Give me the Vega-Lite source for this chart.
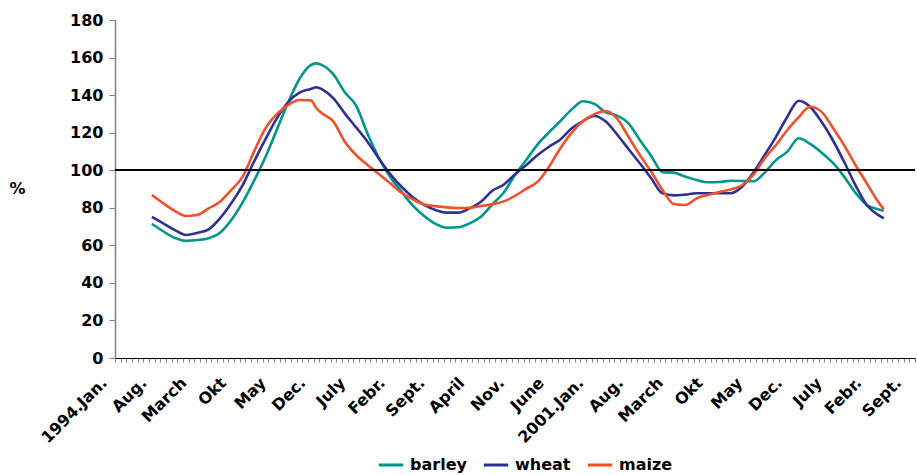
{
  "$schema": "https://vega.github.io/schema/vega-lite/v6.json",
  "autosize": {"type": "none"},
  "padding": {"left": 115, "top": 20, "right": 2, "bottom": 117},
  "width": 800,
  "height": 338,
  "background": "white",
  "config": {
    "view": {"stroke": null},
    "font": "DejaVu Sans",
    "axis": {"grid": false, "labelFont": "DejaVu Sans", "labelFontWeight": "bold", "labelFontSize": 16, "labelColor": "black"},
    "axisY": {"labelOverlap": false}
  },
  "data": {
    "values": [
      {"m": 6, "barley": 71.4, "wheat": 75.2, "maize": 86.8},
      {"m": 8, "barley": 67.5, "wheat": 71.7, "maize": 82.4},
      {"m": 10, "barley": 64.0, "wheat": 68.2, "maize": 78.4},
      {"m": 12, "barley": 62.4, "wheat": 65.5, "maize": 75.6},
      {"m": 14, "barley": 62.8, "wheat": 66.6, "maize": 76.2},
      {"m": 16, "barley": 63.8, "wheat": 68.5, "maize": 79.7},
      {"m": 18, "barley": 66.7, "wheat": 74.4, "maize": 83.2},
      {"m": 20, "barley": 73.5, "wheat": 82.4, "maize": 89.5},
      {"m": 22, "barley": 82.9, "wheat": 92.1, "maize": 96.6},
      {"m": 24, "barley": 94.3, "wheat": 104.5, "maize": 109.9},
      {"m": 26, "barley": 106.9, "wheat": 116.4, "maize": 122.3},
      {"m": 28, "barley": 121.4, "wheat": 127.5, "maize": 129.9},
      {"m": 30, "barley": 136.0, "wheat": 136.2, "maize": 134.7},
      {"m": 32, "barley": 148.6, "wheat": 141.3, "maize": 137.4},
      {"m": 34, "barley": 156.0, "wheat": 143.3, "maize": 137.2},
      {"m": 35, "barley": 156.9, "wheat": 144.2, "maize": 133.0},
      {"m": 36, "barley": 156.0, "wheat": 143.1, "maize": 130.3},
      {"m": 38, "barley": 151.0, "wheat": 138.3, "maize": 125.9},
      {"m": 40, "barley": 141.5, "wheat": 130.3, "maize": 115.2},
      {"m": 42, "barley": 134.4, "wheat": 122.8, "maize": 108.1},
      {"m": 44, "barley": 119.5, "wheat": 115.2, "maize": 102.8},
      {"m": 46, "barley": 106.5, "wheat": 106.3, "maize": 98.0},
      {"m": 48, "barley": 96.4, "wheat": 98.0, "maize": 93.0},
      {"m": 50, "barley": 88.6, "wheat": 91.2, "maize": 88.0},
      {"m": 52, "barley": 81.1, "wheat": 85.6, "maize": 84.5},
      {"m": 54, "barley": 75.6, "wheat": 81.5, "maize": 81.8},
      {"m": 56, "barley": 71.4, "wheat": 78.8, "maize": 80.9},
      {"m": 58, "barley": 69.4, "wheat": 77.4, "maize": 80.2},
      {"m": 60, "barley": 69.6, "wheat": 77.4, "maize": 79.9},
      {"m": 62, "barley": 71.7, "wheat": 79.7, "maize": 80.0},
      {"m": 64, "barley": 75.2, "wheat": 83.2, "maize": 80.9},
      {"m": 66, "barley": 81.8, "wheat": 89.1, "maize": 81.8},
      {"m": 68, "barley": 88.0, "wheat": 92.3, "maize": 83.4},
      {"m": 70, "barley": 97.5, "wheat": 97.8, "maize": 86.3},
      {"m": 72, "barley": 105.6, "wheat": 102.8, "maize": 90.2},
      {"m": 74, "barley": 113.8, "wheat": 108.1, "maize": 93.9},
      {"m": 76, "barley": 120.2, "wheat": 112.5, "maize": 101.9},
      {"m": 78, "barley": 126.2, "wheat": 116.4, "maize": 111.7},
      {"m": 80, "barley": 132.4, "wheat": 122.3, "maize": 120.0},
      {"m": 82, "barley": 136.7, "wheat": 126.2, "maize": 126.2},
      {"m": 84, "barley": 135.3, "wheat": 128.9, "maize": 129.9},
      {"m": 86, "barley": 130.8, "wheat": 125.9, "maize": 131.5},
      {"m": 88, "barley": 129.1, "wheat": 119.0, "maize": 127.5},
      {"m": 90, "barley": 125.0, "wheat": 111.3, "maize": 117.8},
      {"m": 92, "barley": 116.1, "wheat": 103.7, "maize": 108.1},
      {"m": 94, "barley": 107.6, "wheat": 95.7, "maize": 99.2},
      {"m": 96, "barley": 99.0, "wheat": 87.7, "maize": 89.5},
      {"m": 98, "barley": 98.7, "wheat": 86.6, "maize": 82.0},
      {"m": 100, "barley": 96.6, "wheat": 87.0, "maize": 81.5},
      {"m": 102, "barley": 94.8, "wheat": 87.7, "maize": 85.0},
      {"m": 104, "barley": 93.6, "wheat": 87.7, "maize": 86.8},
      {"m": 106, "barley": 93.7, "wheat": 87.7, "maize": 88.4},
      {"m": 108, "barley": 94.4, "wheat": 87.7, "maize": 89.8},
      {"m": 110, "barley": 94.3, "wheat": 91.2, "maize": 92.0},
      {"m": 112, "barley": 94.1, "wheat": 98.7, "maize": 97.5},
      {"m": 114, "barley": 98.7, "wheat": 108.1, "maize": 106.3},
      {"m": 116, "barley": 105.4, "wheat": 117.8, "maize": 113.4},
      {"m": 118, "barley": 109.9, "wheat": 128.5, "maize": 121.4},
      {"m": 120, "barley": 117.0, "wheat": 137.0, "maize": 128.2},
      {"m": 122, "barley": 114.0, "wheat": 133.8, "maize": 133.8},
      {"m": 124, "barley": 109.5, "wheat": 125.9, "maize": 131.2},
      {"m": 126, "barley": 104.0, "wheat": 116.1, "maize": 122.8},
      {"m": 128, "barley": 96.6, "wheat": 104.5, "maize": 113.4},
      {"m": 130, "barley": 88.0, "wheat": 92.1, "maize": 102.8},
      {"m": 132, "barley": 81.5, "wheat": 81.5, "maize": 93.0},
      {"m": 134, "barley": 79.2, "wheat": 76.2, "maize": 83.2},
      {"m": 135, "barley": 78.4, "wheat": 74.4, "maize": 79.2}
    ]
  },
  "layer": [
    {
      "transform": [{"fold": ["barley", "wheat", "maize"], "as": ["grain", "v"]}],
      "mark": {"type": "line", "interpolate": "monotone", "strokeWidth": 2.6},
      "encoding": {
        "x": {
          "field": "m",
          "type": "quantitative",
          "scale": {"domain": [-0.5, 140.5], "nice": false, "zero": false},
          "axis": {
            "title": null,
            "values": [-0.5,0.5,1.5,2.5,3.5,4.5,5.5,6.5,7.5,8.5,9.5,10.5,11.5,12.5,13.5,14.5,15.5,16.5,17.5,18.5,19.5,20.5,21.5,22.5,23.5,24.5,25.5,26.5,27.5,28.5,29.5,30.5,31.5,32.5,33.5,34.5,35.5,36.5,37.5,38.5,39.5,40.5,41.5,42.5,43.5,44.5,45.5,46.5,47.5,48.5,49.5,50.5,51.5,52.5,53.5,54.5,55.5,56.5,57.5,58.5,59.5,60.5,61.5,62.5,63.5,64.5,65.5,66.5,67.5,68.5,69.5,70.5,71.5,72.5,73.5,74.5,75.5,76.5,77.5,78.5,79.5,80.5,81.5,82.5,83.5,84.5,85.5,86.5,87.5,88.5,89.5,90.5,91.5,92.5,93.5,94.5,95.5,96.5,97.5,98.5,99.5,100.5,101.5,102.5,103.5,104.5,105.5,106.5,107.5,108.5,109.5,110.5,111.5,112.5,113.5,114.5,115.5,116.5,117.5,118.5,119.5,120.5,121.5,122.5,123.5,124.5,125.5,126.5,127.5,128.5,129.5,130.5,131.5,132.5,133.5,134.5,135.5,136.5,137.5,138.5,139.5,140.5],
            "labelExpr": "(datum.value + 0.5) % 7 == 0 ? ['1994.Jan.','Aug.','March','Okt','May','Dec.','July','Febr.','Sept.','April','Nov.','June','2001.Jan.','Aug.','March','Okt','May','Dec.','July','Febr.','Sept.'][(datum.value + 0.5) / 7] : ''",
            "labelAngle": -45,
            "labelAlign": "right",
            "labelBaseline": "middle",
            "labelOverlap": false,
            "labelBound": false,
            "labelFlush": false,
            "labelPadding": 18,
            "labelOffset": -11,
            "tickSize": 4,
            "tickColor": "#808080",
            "tickWidth": 1,
            "domainColor": "black",
            "domainWidth": 1
          }
        },
        "y": {
          "field": "v",
          "type": "quantitative",
          "scale": {"domain": [0, 180], "nice": false},
          "axis": {
            "title": "%",
            "titleAngle": 0,
            "titleFont": "DejaVu Sans",
            "titleFontSize": 16,
            "titleFontWeight": "bold",
            "titleColor": "black",
            "titleX": -106,
            "titleY": 168,
            "titleAlign": "left",
            "titleBaseline": "middle",
            "values": [0, 20, 40, 60, 80, 100, 120, 140, 160, 180],
            "labelOverlap": false,
            "labelFlush": false,
            "tickSize": 6,
            "tickColor": "#808080",
            "domainColor": "#808080",
            "domainWidth": 1.5,
            "labelPadding": 6
          }
        },
        "color": {
          "field": "grain",
          "type": "nominal",
          "scale": {"domain": ["barley", "wheat", "maize"], "range": ["#00968A", "#2E3192", "#F2502A"]},
          "legend": {
            "title": null,
            "orient": "none",
            "direction": "horizontal",
            "legendX": 262,
            "legendY": 431,
            "symbolType": "stroke",
            "symbolSize": 600,
            "symbolStrokeWidth": 3,
            "labelFont": "DejaVu Sans",
            "labelFontSize": 16,
            "labelFontWeight": "bold",
            "labelColor": "black",
            "labelOffset": 5,
            "columnPadding": 10
          }
        }
      }
    },
    {
      "mark": {"type": "rule", "color": "black", "strokeWidth": 1},
      "encoding": {"y": {"datum": 100, "axis": {"labelOverlap": false, "values": [0, 20, 40, 60, 80, 100, 120, 140, 160, 180]}}}
    }
  ]
}
